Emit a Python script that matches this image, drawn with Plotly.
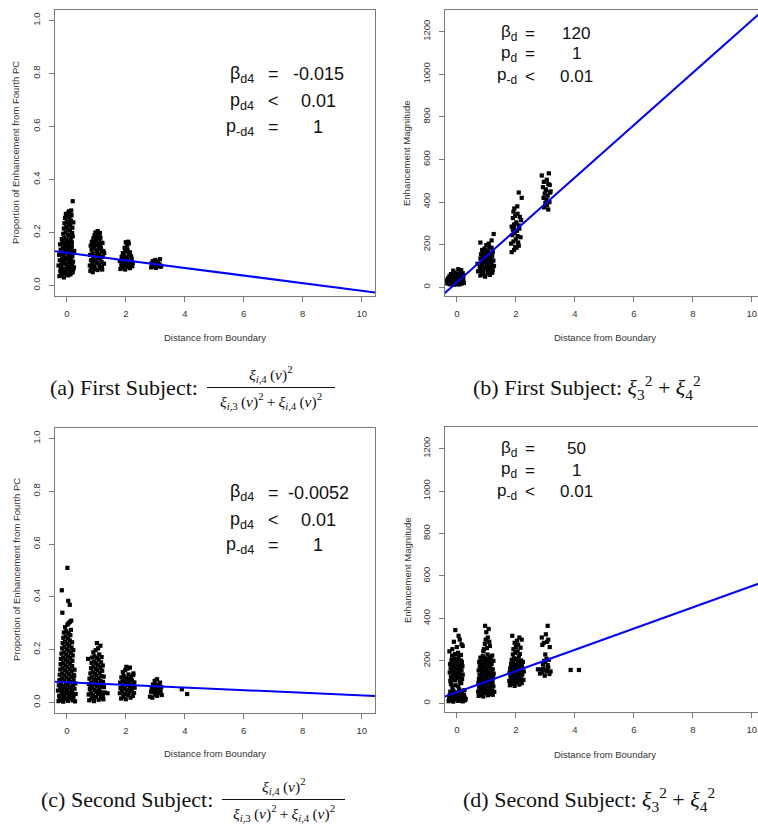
import plotly.graph_objects as go

W, H = 758, 825

# ---------------- data ----------------
X_TICKS = [0, 2, 4, 6, 8, 10]
Y_TICKS_PROP = [0.0, 0.2, 0.4, 0.6, 0.8, 1.0]
Y_TICKTEXT_PROP = ["0.0", "0.2", "0.4", "0.6", "0.8", "1.0"]
Y_TICKS_MAG = [0, 200, 400, 600, 800, 1000, 1200]
Y_TICKTEXT_MAG = ["0", "200", "400", "600", "800", "1000", "1200"]
LINE_X = [-0.6, 10.7]

# (a) First subject, proportion from fourth PC
A_x = [-0.25, -0.18, -0.10, -0.02, 0.05, 0.12, 0.20, -0.22, -0.14, -0.06, 0.02, 0.09, 0.16, 0.24,
       -0.28, -0.20, -0.12, -0.04, 0.04, 0.11, 0.18, -0.24, -0.16, -0.08, 0.00, 0.07, 0.14, 0.21,
       -0.26, -0.19, -0.11, -0.03, 0.06, 0.13, 0.19, -0.21, -0.13, -0.05, 0.03, 0.10, 0.17, 0.25,
       -0.23, -0.15, -0.07, 0.01, 0.08, 0.15, -0.17, -0.09, -0.01, 0.06, 0.13, 0.20,
       -0.12, -0.04, 0.04, 0.11, 0.18, -0.10, -0.02, 0.05, 0.12, 0.19, -0.08, 0.00, 0.07, 0.14, 0.22,
       -0.06, 0.02, 0.09, 0.16, -0.03, 0.05, 0.12, 0.08, 0.15, 0.20,
       -0.20, -0.08, 0.04, 0.16, -0.15, -0.02, 0.10, 0.22, -0.18, -0.05, 0.08, 0.18, -0.10, 0.02, 0.14,
       -0.16, -0.04, 0.09, 0.20, -0.12, 0.00, 0.13, -0.06, 0.07, 0.17,
       0.80, 0.88, 0.96, 1.04, 1.12, 1.20, 0.78, 0.86, 0.94, 1.02, 1.10, 1.18, 1.26,
       0.82, 0.90, 0.98, 1.06, 1.14, 1.22, 0.79, 0.87, 0.95, 1.03, 1.11, 1.19, 1.27,
       0.84, 0.92, 1.00, 1.08, 1.16, 1.24, 0.81, 0.89, 0.97, 1.05, 1.13, 1.21,
       0.85, 0.93, 1.01, 1.09, 1.17, 0.90, 0.98, 1.06, 1.14, 0.94, 1.02, 1.10, 0.97, 1.05, 1.12,
       1.00, 1.08, 0.83, 0.95, 1.07, 1.19, 0.91, 1.03, 1.15,
       1.82, 1.90, 1.98, 2.06, 2.14, 2.22, 1.85, 1.93, 2.01, 2.09, 2.17, 2.24,
       1.80, 1.88, 1.96, 2.04, 2.12, 2.20, 1.86, 1.94, 2.02, 2.10, 2.18, 1.90, 1.98, 2.06, 2.14,
       1.96, 2.04, 2.10, 2.00, 2.08, 1.87, 1.99, 2.11, 2.05,
       2.86, 2.94, 3.02, 3.10, 3.18, 2.90, 2.98, 3.06, 3.14, 2.88, 2.96, 3.04, 3.12, 3.20,
       2.92, 3.00, 3.08, 3.16]
A_y = [0.035, 0.040, 0.030, 0.045, 0.038, 0.042, 0.050, 0.055, 0.060, 0.050, 0.065, 0.058, 0.052, 0.068,
       0.075, 0.070, 0.085, 0.080, 0.072, 0.088, 0.078, 0.095, 0.100, 0.092, 0.105, 0.098, 0.108, 0.090,
       0.115, 0.120, 0.112, 0.128, 0.118, 0.125, 0.110, 0.135, 0.140, 0.132, 0.148, 0.138, 0.145, 0.130,
       0.155, 0.160, 0.152, 0.168, 0.158, 0.165, 0.175, 0.180, 0.172, 0.188, 0.178, 0.185,
       0.195, 0.200, 0.192, 0.208, 0.198, 0.215, 0.220, 0.212, 0.228, 0.218, 0.235, 0.240, 0.232, 0.245, 0.238,
       0.255, 0.260, 0.252, 0.265, 0.270, 0.275, 0.268, 0.280, 0.283, 0.318,
       0.045, 0.048, 0.041, 0.047, 0.064, 0.062, 0.066, 0.061, 0.083, 0.082, 0.086, 0.081, 0.103, 0.101, 0.104,
       0.122, 0.124, 0.121, 0.123, 0.143, 0.141, 0.144, 0.162, 0.163, 0.161,
       0.055, 0.050, 0.062, 0.058, 0.065, 0.060, 0.075, 0.080, 0.072, 0.085, 0.078, 0.088, 0.082,
       0.095, 0.100, 0.092, 0.105, 0.098, 0.108, 0.115, 0.120, 0.112, 0.125, 0.118, 0.128, 0.122,
       0.135, 0.140, 0.132, 0.145, 0.138, 0.130, 0.150, 0.155, 0.152, 0.158, 0.148, 0.160,
       0.165, 0.170, 0.168, 0.175, 0.162, 0.178, 0.182, 0.185, 0.180, 0.190, 0.195, 0.188, 0.200, 0.205, 0.198,
       0.193, 0.183, 0.068, 0.090, 0.110, 0.070, 0.100, 0.130, 0.142,
       0.062, 0.068, 0.060, 0.070, 0.065, 0.072, 0.078, 0.082, 0.076, 0.088, 0.080, 0.085,
       0.092, 0.098, 0.095, 0.102, 0.090, 0.100, 0.108, 0.112, 0.106, 0.118, 0.110, 0.122, 0.128, 0.135, 0.125,
       0.142, 0.150, 0.158, 0.163, 0.165, 0.071, 0.087, 0.079, 0.094,
       0.068, 0.072, 0.066, 0.075, 0.070, 0.078, 0.082, 0.076, 0.080, 0.085, 0.088, 0.083, 0.079, 0.074,
       0.092, 0.096, 0.090, 0.099]
A_line = [0.123, -0.0143]   # intercept, slope

# (b) First subject, enhancement magnitude
B_x = [-0.32, -0.24, -0.16, -0.08, 0.00, 0.08, 0.16, 0.24, -0.28, -0.20, -0.12, -0.04, 0.04, 0.12, 0.20,
       -0.34, -0.26, -0.18, -0.10, -0.02, 0.06, 0.14, 0.22, -0.30, -0.22, -0.14, -0.06, 0.02, 0.10, 0.18,
       -0.25, -0.15, -0.05, 0.05, 0.15, 0.22, -0.20, -0.08, 0.02, 0.12, 0.20, -0.12, 0.05, 0.15,
       -0.18, -0.02, 0.10, -0.28, 0.18,
       0.80, 0.88, 0.96, 1.04, 1.12, 1.20, 0.72, 0.82, 0.90, 0.98, 1.06, 1.14, 1.22,
       0.78, 0.86, 0.94, 1.02, 1.10, 1.18, 1.26, 0.84, 0.92, 1.00, 1.08, 1.16, 1.24,
       0.80, 0.88, 0.96, 1.04, 1.12, 1.20, 0.82, 0.90, 0.98, 1.06, 1.14, 1.22,
       0.86, 0.94, 1.02, 1.10, 1.18, 0.80, 1.00, 1.08, 1.25, 1.18,
       0.70, 0.85, 0.95, 1.05, 1.15, 0.92, 1.12,
       1.86, 1.94, 2.02, 2.10, 1.84, 1.92, 2.00, 2.08, 2.16, 1.88, 1.96, 2.04, 2.12, 1.90,
       1.86, 1.94, 2.02, 2.10, 2.18, 1.90, 1.98, 2.06, 2.14, 1.95, 2.05, 2.10, 2.20, 1.92,
       1.98, 2.06, 1.93, 2.01,
       2.88, 3.12, 2.95, 3.05, 3.15, 2.92, 3.02, 3.10, 3.18, 2.98, 3.08, 2.94, 3.04, 3.14,
       3.00, 3.06, 2.96, 3.16, 3.10, 3.02]
B_y = [18, 14, 16, 12, 15, 13, 17, 20, 24, 28, 22, 26, 25, 29, 23,
       32, 36, 34, 38, 31, 35, 33, 37, 42, 46, 44, 48, 41, 45, 43,
       52, 56, 54, 58, 51, 55, 62, 68, 65, 72, 66, 78, 85, 80,
       20, 30, 40, 27, 26,
       55, 62, 50, 65, 58, 68, 75, 82, 72, 88, 78, 85, 80,
       95, 102, 92, 108, 98, 105, 100, 115, 122, 112, 128, 118, 125,
       135, 142, 132, 148, 138, 145, 155, 162, 152, 168, 158, 165,
       175, 182, 172, 190, 185, 210, 198, 205, 250, 220,
       110, 70, 120, 95, 75, 160, 140,
       165, 175, 185, 195, 205, 215, 225, 210, 235, 245, 255, 265, 275, 270,
       285, 295, 305, 290, 315, 325, 335, 345, 330, 370, 380, 445, 420, 355,
       190, 240, 280, 300,
       525, 535, 495, 505, 480, 470, 460, 485, 450, 440, 430, 420, 410, 400,
       395, 385, 375, 445, 365, 455]
B_line = [23, 123]

# (c) Second subject, proportion from fourth PC
C_x = [-0.28, -0.20, -0.12, -0.04, 0.04, 0.12, 0.20, 0.28, -0.26, -0.18, -0.10, -0.02, 0.06, 0.14, 0.22, 0.30,
       -0.30, -0.22, -0.14, -0.06, 0.02, 0.10, 0.18, 0.26, -0.27, -0.19, -0.11, -0.03, 0.05, 0.13, 0.21, 0.29,
       -0.25, -0.17, -0.09, -0.01, 0.07, 0.15, 0.23, -0.24, -0.16, -0.08, 0.00, 0.08, 0.16, 0.24,
       -0.22, -0.14, -0.06, 0.02, 0.10, 0.18, 0.26, -0.21, -0.13, -0.05, 0.03, 0.11, 0.19,
       -0.20, -0.12, -0.04, 0.04, 0.12, 0.20, -0.18, -0.10, -0.02, 0.06, 0.14, 0.22,
       -0.16, -0.08, 0.00, 0.08, 0.16, -0.14, -0.06, 0.02, 0.10, 0.18, -0.12, -0.04, 0.04, 0.12,
       -0.10, -0.02, 0.06, 0.14, -0.06, 0.02, 0.10, 0.15, 0.06,
       -0.15, -0.17, 0.05, 0.10, 0.02,
       -0.24, -0.08, 0.08, 0.22, -0.16, 0.00, 0.16, -0.20, -0.04, 0.12, 0.25,
       0.76, 0.84, 0.92, 1.00, 1.08, 1.16, 1.24, 0.74, 0.82, 0.90, 0.98, 1.06, 1.14, 1.22, 1.28,
       0.78, 0.86, 0.94, 1.02, 1.10, 1.18, 1.26, 0.75, 0.83, 0.91, 0.99, 1.07, 1.15, 1.23,
       0.77, 0.85, 0.93, 1.01, 1.09, 1.17, 1.25, 0.80, 0.88, 0.96, 1.04, 1.12, 1.20,
       0.82, 0.90, 0.98, 1.06, 1.14, 1.22, 0.84, 0.92, 1.00, 1.08, 1.16, 0.86, 0.94, 1.02, 1.10, 1.18,
       0.90, 0.98, 1.06, 1.14, 1.02, 0.72, 0.88, 1.04, 1.20, 0.80, 0.96, 1.12, 1.38,
       1.84, 1.92, 2.00, 2.08, 2.16, 2.24, 1.80, 1.88, 1.96, 2.04, 2.12, 2.20, 2.28,
       1.82, 1.90, 1.98, 2.06, 2.14, 2.22, 2.30, 1.81, 1.89, 1.97, 2.05, 2.13, 2.21, 2.29,
       1.85, 1.93, 2.01, 2.09, 2.17, 2.25, 1.90, 1.98, 2.06, 2.14, 2.02,
       1.86, 2.02, 2.18, 1.94, 2.10, 2.26,
       2.82, 2.90, 2.98, 3.06, 3.14, 3.22, 2.86, 2.94, 3.02, 3.10, 3.18, 2.88, 2.96, 3.04, 3.12, 3.20,
       2.92, 3.00, 3.08, 3.16, 2.98, 3.06, 2.90, 3.14,
       3.90, 4.08]
C_y = [0.005, 0.010, 0.003, 0.012, 0.006, 0.015, 0.008, 0.004, 0.025, 0.030, 0.022, 0.035, 0.028, 0.038, 0.024, 0.032,
       0.045, 0.050, 0.042, 0.055, 0.048, 0.058, 0.044, 0.052, 0.065, 0.070, 0.062, 0.075, 0.068, 0.078, 0.064, 0.072,
       0.085, 0.090, 0.082, 0.095, 0.088, 0.098, 0.084, 0.105, 0.110, 0.102, 0.115, 0.108, 0.118, 0.104,
       0.125, 0.130, 0.122, 0.135, 0.128, 0.138, 0.124, 0.145, 0.150, 0.142, 0.155, 0.148, 0.158,
       0.165, 0.170, 0.162, 0.175, 0.168, 0.178, 0.185, 0.190, 0.182, 0.195, 0.188, 0.198,
       0.205, 0.210, 0.202, 0.215, 0.208, 0.225, 0.230, 0.222, 0.235, 0.228, 0.245, 0.250, 0.242, 0.255,
       0.265, 0.270, 0.262, 0.275, 0.285, 0.295, 0.305, 0.310, 0.300,
       0.340, 0.425, 0.385, 0.370, 0.510,
       0.015, 0.018, 0.020, 0.016, 0.035, 0.040, 0.033, 0.055, 0.060, 0.057, 0.100,
       0.008, 0.015, 0.005, 0.020, 0.010, 0.018, 0.012, 0.030, 0.035, 0.028, 0.042, 0.032, 0.040, 0.026, 0.038,
       0.050, 0.055, 0.048, 0.062, 0.052, 0.060, 0.058, 0.070, 0.075, 0.068, 0.082, 0.072, 0.080, 0.078,
       0.090, 0.095, 0.088, 0.102, 0.092, 0.100, 0.098, 0.110, 0.115, 0.108, 0.122, 0.112, 0.120,
       0.130, 0.135, 0.128, 0.142, 0.132, 0.140, 0.150, 0.155, 0.148, 0.162, 0.152, 0.170, 0.175, 0.168, 0.182, 0.172,
       0.190, 0.198, 0.205, 0.215, 0.225, 0.165, 0.020, 0.040, 0.030, 0.060, 0.085, 0.065, 0.035,
       0.015, 0.022, 0.012, 0.028, 0.018, 0.025, 0.035, 0.040, 0.032, 0.046, 0.038, 0.044, 0.036,
       0.055, 0.060, 0.052, 0.066, 0.058, 0.064, 0.056, 0.075, 0.080, 0.072, 0.086, 0.078, 0.084, 0.076,
       0.095, 0.100, 0.092, 0.106, 0.098, 0.104, 0.115, 0.122, 0.128, 0.132, 0.135,
       0.045, 0.070, 0.050, 0.085, 0.090, 0.110,
       0.022, 0.018, 0.030, 0.025, 0.035, 0.028, 0.040, 0.045, 0.038, 0.050, 0.042, 0.055, 0.060, 0.052, 0.065, 0.058,
       0.068, 0.072, 0.062, 0.075, 0.082, 0.088, 0.058, 0.048,
       0.050, 0.032]
C_line = [0.076, -0.0049]

# (d) Second subject, enhancement magnitude
D_x = [-0.28, -0.20, -0.12, -0.04, 0.04, 0.12, 0.20, 0.28, -0.26, -0.18, -0.10, -0.02, 0.06, 0.14, 0.22, 0.30,
       -0.24, -0.16, -0.08, 0.00, 0.08, 0.16, 0.24, -0.22, -0.12, -0.02, 0.08, 0.18, 0.26,
       -0.15, -0.05, 0.05, 0.15, -0.20,
       -0.22, -0.14, -0.06, 0.02, 0.10, 0.18, -0.20, -0.12, -0.04, 0.04, 0.12, 0.20,
       -0.24, -0.16, -0.08, 0.00, 0.08, 0.16, -0.21, -0.13, -0.05, 0.03, 0.11, 0.19,
       -0.23, -0.15, -0.07, 0.01, 0.09, 0.17, -0.18, -0.10, -0.02, 0.06, 0.14,
       -0.16, -0.06, 0.04, 0.14, -0.25,
       -0.05, 0.06, 0.10, -0.10, 0.16, 0.00, -0.15, 0.20,
       -0.22, -0.06, 0.10, 0.26, -0.14, 0.02, 0.18,
       0.74, 0.82, 0.90, 0.98, 1.06, 1.14, 1.22, 0.72, 0.80, 0.88, 0.96, 1.04, 1.12, 1.20, 1.27,
       0.76, 0.84, 0.92, 1.00, 1.08, 1.16, 1.24, 0.73, 0.81, 0.89, 0.97, 1.05, 1.13, 1.21,
       0.75, 0.83, 0.91, 0.99, 1.07, 1.15, 1.23, 0.77, 0.85, 0.93, 1.01, 1.09, 1.17, 1.25,
       0.74, 0.82, 0.90, 0.98, 1.06, 1.14, 1.22, 0.78, 0.86, 0.94, 1.02, 1.10, 1.18,
       0.76, 0.84, 0.92, 1.00, 1.08, 1.16, 1.24, 0.80, 0.88, 0.96, 1.04, 1.12, 1.20,
       0.90, 1.02, 0.95, 1.10, 0.98, 1.05, 0.92, 1.12, 1.00, 0.96, 1.08,
       0.86, 1.00, 1.14, 0.80, 0.94, 1.08, 1.22,
       1.80, 1.88, 1.96, 2.04, 2.12, 2.20, 1.78, 1.86, 1.94, 2.02, 2.10, 2.18, 2.26,
       1.82, 1.90, 1.98, 2.06, 2.14, 2.22, 1.79, 1.87, 1.95, 2.03, 2.11, 2.19, 2.27,
       1.81, 1.89, 1.97, 2.05, 2.13, 2.21, 1.84, 1.92, 2.00, 2.08, 2.16, 2.24,
       1.86, 1.94, 2.02, 2.10, 2.18, 1.90, 1.98, 2.06, 2.14, 1.92, 2.00, 2.08, 2.16,
       1.96, 2.04, 2.12, 1.88, 2.20, 1.84, 2.00, 2.16, 1.90, 2.08,
       2.82, 2.90, 2.98, 3.06, 3.14, 2.86, 2.94, 3.02, 3.10, 3.18, 2.92, 3.00, 3.08, 2.96, 3.04, 3.12,
       3.00, 2.90, 3.06, 3.10, 2.95, 3.15, 3.02, 2.88, 3.08, 2.75,
       3.86, 4.14]
D_y = [10, 15, 8, 18, 12, 16, 9, 14, 22, 28, 25, 32, 24, 30, 26, 21,
       38, 42, 36, 48, 40, 45, 39, 55, 60, 52, 65, 58, 62,
       75, 85, 80, 95, 90,
       105, 112, 108, 118, 102, 115, 125, 132, 128, 138, 122, 135,
       145, 152, 148, 158, 142, 155, 165, 172, 168, 178, 162, 175,
       185, 192, 188, 198, 182, 195, 205, 212, 208, 218, 202,
       225, 232, 238, 228, 245,
       345, 318, 300, 290, 278, 265, 255, 270,
       18, 20, 12, 30, 45, 33, 50,
       35, 42, 32, 48, 38, 45, 40, 55, 62, 52, 68, 58, 65, 60, 54,
       75, 82, 72, 88, 78, 85, 80, 95, 102, 92, 108, 98, 105, 100,
       115, 122, 112, 128, 118, 125, 120, 135, 142, 132, 148, 138, 145, 140,
       155, 162, 152, 168, 158, 165, 160, 175, 182, 172, 188, 178, 185,
       195, 202, 192, 208, 198, 205, 200, 215, 222, 212, 230, 218, 225,
       245, 260, 280, 290, 300, 310, 255, 270, 335, 365, 350,
       40, 50, 70, 110, 150, 190, 130,
       85, 92, 82, 98, 88, 95, 105, 112, 102, 118, 108, 115, 110,
       125, 132, 122, 138, 128, 135, 145, 152, 142, 158, 148, 155, 150,
       165, 172, 162, 178, 168, 175, 185, 192, 182, 198, 188, 195,
       205, 212, 208, 220, 202, 230, 238, 245, 232, 255, 265, 275, 262,
       285, 295, 310, 318, 300, 95, 115, 160, 180, 140,
       140, 145, 130, 150, 138, 160, 165, 155, 170, 150, 185, 195, 180, 200, 210, 205,
       230, 275, 290, 300, 285, 265, 325, 310, 365, 160,
       157, 157]
D_line = [52, 50]

# ---------------- layout helpers ----------------
SANS = "Liberation Sans, Arial, sans-serif"
SERIF = "Liberation Serif, Times New Roman, serif"
FRAME = "#7a7a7a"
TXT = "#333333"
INK = "#111111"


def px(x):
    return x / W


def py(y):
    return 1 - y / H


panels = [
    ("", A_x, A_y, A_line, (55, 375), (10, 296), [-0.4, 10.45], [-0.04, 1.04], Y_TICKS_PROP, Y_TICKTEXT_PROP, True),
    ("2", B_x, B_y, B_line, (445, 758), (10, 296), [-0.4, 10.21], [-41, 1302], Y_TICKS_MAG, Y_TICKTEXT_MAG, False),
    ("3", C_x, C_y, C_line, (55, 375), (428, 713), [-0.4, 10.45], [-0.04, 1.04], Y_TICKS_PROP, Y_TICKTEXT_PROP, True),
    ("4", D_x, D_y, D_line, (445, 758), (427, 712), [-0.4, 10.21], [-41, 1302], Y_TICKS_MAG, Y_TICKTEXT_MAG, False),
]

fig = go.Figure()
layout = dict(width=W, height=H, margin=dict(l=0, r=0, t=0, b=0),
              paper_bgcolor="white", plot_bgcolor="white", showlegend=False)

for name, xs, ys, line, xd, yd, xr, yr, ytv, ytt, full in panels:
    xa, ya = "x" + name, "y" + name
    fig.add_trace(go.Scatter(x=xs, y=ys, mode="markers", xaxis=xa, yaxis=ya,
                             marker=dict(symbol="square", size=4.2, color="black", line=dict(width=0)),
                             hoverinfo="skip"))
    fig.add_trace(go.Scatter(x=LINE_X, y=[line[0] + line[1] * v for v in LINE_X], mode="lines",
                             xaxis=xa, yaxis=ya, line=dict(color="#0000ff", width=2), hoverinfo="skip"))
    common = dict(showgrid=False, zeroline=False, showline=True, linecolor=FRAME, linewidth=1,
                  ticks="outside", ticklen=5, tickwidth=1, tickcolor=FRAME,
                  tickfont=dict(family=SANS, size=9.5, color=TXT))
    layout["xaxis" + name] = dict(common, domain=[px(xd[0]), px(xd[1])], range=xr, mirror=True,
                                  tickvals=X_TICKS, ticktext=[str(t) for t in X_TICKS],
                                  anchor=ya, ticklabelstandoff=4)
    layout["yaxis" + name] = dict(common, domain=[py(yd[1]), py(yd[0])], range=yr, mirror=full,
                                  tickvals=ytv, ticktext=ytt, tickangle=-90,
                                  anchor=xa, ticklabelstandoff=5)

fig.update_layout(**layout)

annots = []


def ann(text, x, y, size, family=SANS, xanchor="center", yanchor="middle", color=TXT, angle=0):
    annots.append(dict(text=text, x=px(x), y=py(y), xref="paper", yref="paper", showarrow=False,
                       xanchor=xanchor, yanchor=yanchor, textangle=angle,
                       font=dict(family=family, size=size, color=color)))


# axis titles
for cx, cy in [(215, 337), (605, 337), (215, 753), (605, 754)]:
    ann("Distance from Boundary", cx, cy, 9.5)
for cy in [153, 570]:
    ann("Proportion of Enhancement from Fourth PC", 16, cy, 9.5, angle=-90)
    ann("Enhancement Magnitude", 407, cy, 9.5, angle=-90)

# statistics boxes
STAT_LABELS_4 = ["β<sub>d4</sub>", "p<sub>d4</sub>", "p<sub>-d4</sub>"]
STAT_LABELS = ["β<sub>d</sub>", "p<sub>d</sub>", "p<sub>-d</sub>"]
stats = [
    (STAT_LABELS_4, ["=", "<", "="], ["-0.015", "0.01", "1"], [74, 101, 127], 256, 273, 318, 18),
    (STAT_LABELS_4, ["=", "<", "="], ["-0.0052", "0.01", "1"], [493, 520, 545], 256, 273, 318, 18),
    (STAT_LABELS, ["=", "=", "<"], ["120", "1", "0.01"], [33, 54, 76], 519, 530, 576, 17),
    (STAT_LABELS, ["=", "=", "<"], ["50", "1", "0.01"], [449, 470, 492], 519, 530, 576, 17),
]
for labels, ops, vals, rows, lx, ox, vx, fs in stats:
    for lab, op, val, ry in zip(labels, ops, vals, rows):
        ann(lab, lx, ry, fs, xanchor="right", color=INK)
        ann(op, ox, ry, fs, color=INK)
        ann(val, vx, ry, fs, color=INK)

# captions
CAP = 22
FR = 15.5
TS = "\u2009"
NUM = "<i>ξ</i><sub><i>i</i>,4</sub>" + TS + "(<i>v</i>)<sup>2</sup>"
DEN = ("<i>ξ</i><sub><i>i</i>,3</sub>" + TS + "(<i>v</i>)<sup>2</sup>" + TS + "+" + TS +
       "<i>ξ</i><sub><i>i</i>,4</sub>" + TS + "(<i>v</i>)<sup>2</sup>")
SUMSQ = "<i>ξ</i><sub>3</sub><sup>2</sup> + <i>ξ</i><sub>4</sub><sup>2</sup>"

CAP_TOP_Y = 387
CAP_BOT_Y = 799

ann("(a) First Subject:", 48, CAP_TOP_Y, CAP, family=SERIF, xanchor="left", color=INK)
ann(NUM, 271, CAP_TOP_Y, FR, family=SERIF, yanchor="bottom", color=INK)
ann(DEN, 271, CAP_TOP_Y + 1, FR, family=SERIF, yanchor="top", color=INK)
ann("(b) First Subject: " + SUMSQ, 471, CAP_TOP_Y, CAP, family=SERIF, xanchor="left", color=INK)
ann("(c) Second Subject:", 39, CAP_BOT_Y, CAP, family=SERIF, xanchor="left", color=INK)
ann(NUM, 284, CAP_BOT_Y, FR, family=SERIF, yanchor="bottom", color=INK)
ann(DEN, 284, CAP_BOT_Y + 1, FR, family=SERIF, yanchor="top", color=INK)
ann("(d) Second Subject: " + SUMSQ, 461, CAP_BOT_Y, CAP, family=SERIF, xanchor="left", color=INK)

shapes = [
    dict(type="line", xref="paper", yref="paper", x0=px(207), x1=px(335),
         y0=py(CAP_TOP_Y + 0.5), y1=py(CAP_TOP_Y + 0.5), line=dict(color=INK, width=1)),
    dict(type="line", xref="paper", yref="paper", x0=px(222), x1=px(345),
         y0=py(CAP_BOT_Y + 0.5), y1=py(CAP_BOT_Y + 0.5), line=dict(color=INK, width=1)),
]

fig.update_layout(annotations=annots, shapes=shapes)
fig.write_html("out.html")
